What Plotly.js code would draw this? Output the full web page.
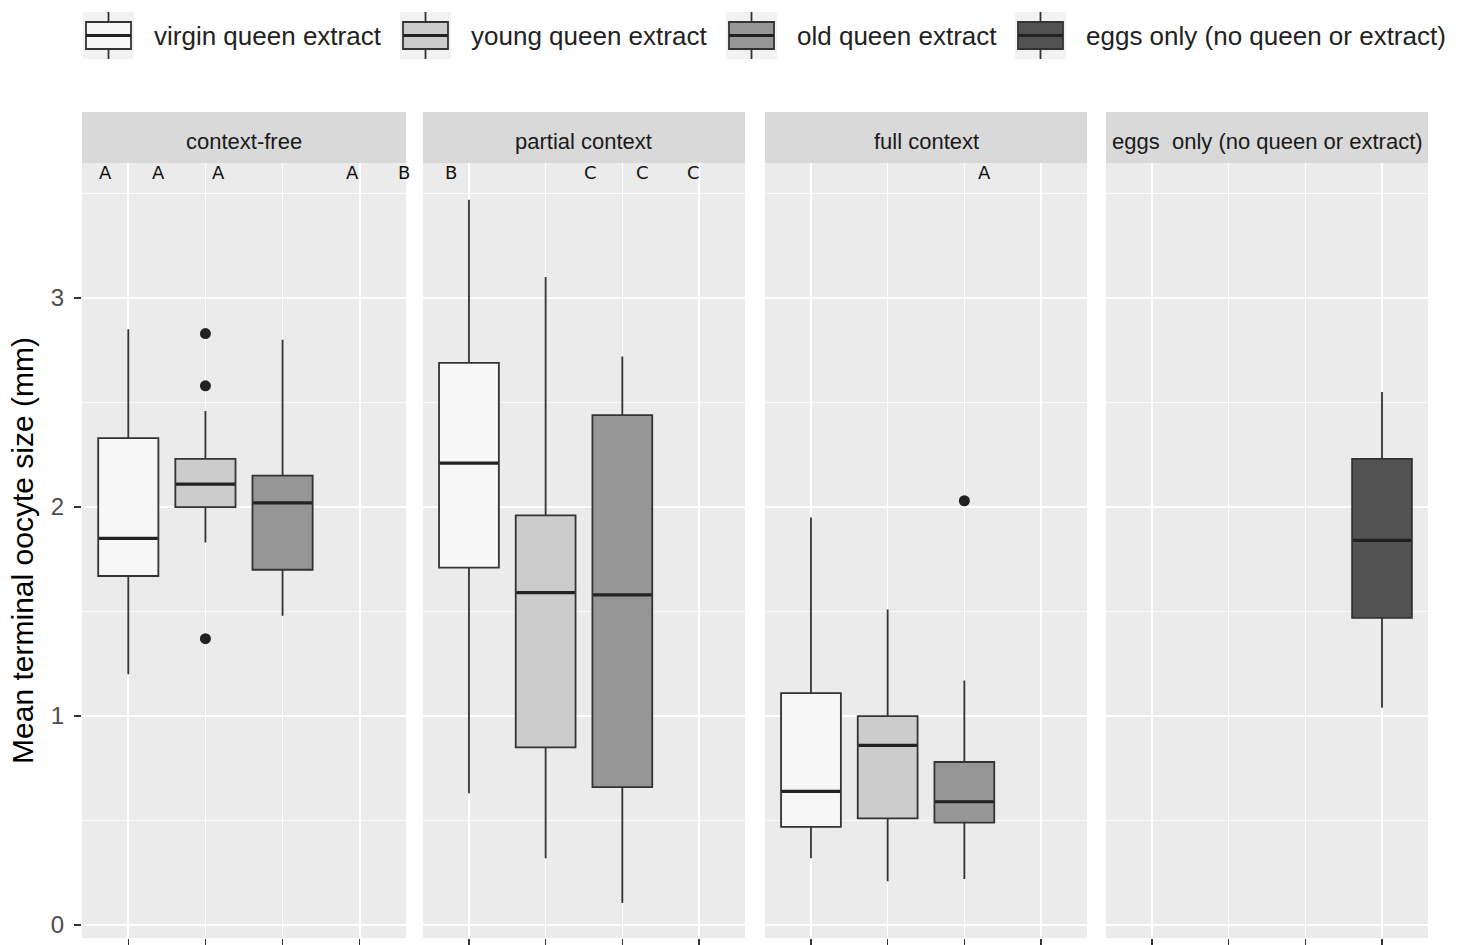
<!DOCTYPE html>
<html>
<head>
<meta charset="utf-8">
<script src="https://cdn.plot.ly/plotly-3.0.1.min.js"></script>
<style>html,body{margin:0;padding:0;background:#fff;}#chart{width:1468px;height:945px;}</style>
</head>
<body>
<div id="chart"></div>
<script>
// ---------- DATA ----------
const panelNames = ['context-free', 'partial context', 'full context', 'eggs\u00A0 only (no queen or extract)'];
const groupNames = ['virgin queen extract', 'young queen extract', 'old queen extract', 'eggs only (no queen or extract)'];
const groupFill = ['#F7F7F7', '#CCCCCC', '#969696', '#525252'];

// box statistics, indexed [panel][group]
const lowerWhisker = [[1.20, 1.83, 1.48, null], [0.63, 0.32, 0.105, null], [0.32, 0.21, 0.22, null], [null, null, null, 1.04]];
const q1 =           [[1.67, 2.00, 1.70, null], [1.71, 0.85, 0.66, null], [0.47, 0.51, 0.49, null], [null, null, null, 1.47]];
const median =       [[1.85, 2.11, 2.02, null], [2.21, 1.59, 1.58, null], [0.64, 0.86, 0.59, null], [null, null, null, 1.84]];
const q3 =           [[2.33, 2.23, 2.15, null], [2.69, 1.96, 2.44, null], [1.11, 1.00, 0.78, null], [null, null, null, 2.23]];
const upperWhisker = [[2.85, 2.46, 2.80, null], [3.47, 3.10, 2.72, null], [1.95, 1.51, 1.17, null], [null, null, null, 2.55]];

// outliers
const outlierPanel = [0, 0, 0, 2];
const outlierGroup = [1, 1, 1, 2];
const outlierValue = [2.83, 2.58, 1.37, 2.03];

// significance letters
const letterPanel = [0, 0, 0, 0, 0, 1, 1, 1, 1, 2];
const letterText = ['A', 'A', 'A', 'A', 'B', 'B', 'C', 'C', 'C', 'A'];
const letterX = [0.71, 1.39, 2.17, 3.91, 4.58, 0.76, 2.59, 3.26, 3.93, 3.26];
const letterY = 3.60;

const yTickVals = [0, 1, 2, 3];
const yTitle = 'Mean terminal oocyte size (mm)';

// ---------- STYLE / LAYOUT ----------
const BOX_W = 0.78;
const LINE = '#333333';
const domains = [[0, 0.2407], [0.2533, 0.4926], [0.5074, 0.7467], [0.7608, 1]];
const ML = 82, MT = 163, PW = 1346, PH = 775;
const stripH = 51 / PH;
const px2x = v => (v - ML) / PW;
const px2y = v => 1 + (MT - v) / PH;
const keyLeft = [83, 400, 726, 1015];

const traces = [];
for (let p = 0; p < panelNames.length; p++) {
  const xa = p === 0 ? 'x' : 'x' + (p + 1);
  for (let g = 0; g < groupNames.length; g++) {
    if (median[p][g] === null) continue;
    const pos = g + 1;
    traces.push({
      type: 'box', xaxis: xa, yaxis: 'y',
      x: [pos], q1: [q1[p][g]], median: [median[p][g]], q3: [q3[p][g]],
      lowerfence: [lowerWhisker[p][g]], upperfence: [upperWhisker[p][g]],
      width: BOX_W, whiskerwidth: 0, boxpoints: false,
      fillcolor: groupFill[g], line: {color: LINE, width: 1.8},
      name: groupNames[g], showlegend: false, hoverinfo: 'skip'
    });
    traces.push({
      type: 'scatter', mode: 'lines', xaxis: xa, yaxis: 'y',
      x: [pos - BOX_W / 2 + 0.01, pos + BOX_W / 2 - 0.01], y: [median[p][g], median[p][g]],
      line: {color: '#222222', width: 3.2}, showlegend: false, hoverinfo: 'skip'
    });
  }
}
for (let i = 0; i < outlierValue.length; i++) {
  const p = outlierPanel[i];
  traces.push({
    type: 'scatter', mode: 'markers', xaxis: p === 0 ? 'x' : 'x' + (p + 1), yaxis: 'y',
    x: [outlierGroup[i] + 1], y: [outlierValue[i]],
    marker: {color: '#222222', size: 11}, showlegend: false, hoverinfo: 'skip'
  });
}

const layout = {
  width: 1468, height: 945,
  paper_bgcolor: '#ffffff', plot_bgcolor: '#EBEBEB',
  margin: {l: ML, r: 1468 - ML - PW, t: MT, b: 945 - MT - PH},
  font: {family: 'Liberation Sans, Arial, sans-serif', color: '#333333'},
  showlegend: false,
  yaxis: {
    range: [-0.062, 3.646], tickvals: yTickVals, ticktext: yTickVals.map(String),
    ticks: 'outside', ticklen: 7, tickwidth: 1.5, tickcolor: LINE, ticklabelstandoff: 5,
    tickfont: {size: 24, color: '#4D4D4D'},
    showgrid: true, gridcolor: '#FFFFFF', gridwidth: 1.6, zeroline: false, showline: false,
    minor: {dtick: 0.5, tick0: 0, showgrid: true, gridcolor: '#FFFFFF', gridwidth: 0.8, ticks: ''},
    title: {text: yTitle, font: {size: 30, color: '#000000'}, standoff: 8},
    anchor: 'x', fixedrange: true
  },
  shapes: [], annotations: []
};
for (let p = 0; p < panelNames.length; p++) {
  const key = p === 0 ? 'xaxis' : 'xaxis' + (p + 1);
  layout[key] = {
    domain: domains[p], anchor: 'y', range: [0.4, 4.6],
    tickvals: [1, 2, 3, 4], ticktext: ['', '', '', ''],
    ticks: 'outside', ticklen: 8, tickwidth: 1.5, tickcolor: LINE,
    showgrid: true, gridcolor: '#FFFFFF', gridwidth: 1.6, zeroline: false, showline: false,
    fixedrange: true
  };
  layout.shapes.push({
    type: 'rect', xref: 'paper', yref: 'paper', x0: domains[p][0], x1: domains[p][1],
    y0: 1, y1: 1 + stripH, fillcolor: '#D9D9D9', line: {width: 0}, layer: 'below'
  });
  layout.annotations.push({
    xref: 'paper', yref: 'paper', x: (domains[p][0] + domains[p][1]) / 2, y: 1 + stripH / 2,
    text: panelNames[p], showarrow: false, xanchor: 'center', yanchor: 'middle', yshift: -4,
    font: {size: 22, color: '#1A1A1A'}
  });
}
for (let i = 0; i < letterText.length; i++) {
  const p = letterPanel[i];
  layout.annotations.push({
    xref: p === 0 ? 'x' : 'x' + (p + 1), yref: 'y', x: letterX[i], y: letterY,
    text: letterText[i], showarrow: false, xanchor: 'center', yanchor: 'middle',
    font: {size: 18, color: '#111111', family: 'DejaVu Sans, sans-serif'}
  });
}
// custom legend (ggplot-style keys)
for (let g = 0; g < groupNames.length; g++) {
  const L = keyLeft[g], cx = L + 25.5;
  layout.shapes.push({type: 'rect', xref: 'paper', yref: 'paper',
    x0: px2x(L), x1: px2x(L + 51), y0: px2y(12), y1: px2y(59), fillcolor: '#F2F2F2', line: {width: 0}});
  layout.shapes.push({type: 'line', xref: 'paper', yref: 'paper',
    x0: px2x(cx), x1: px2x(cx), y0: px2y(12), y1: px2y(59), line: {color: LINE, width: 1.8}});
  layout.shapes.push({type: 'rect', xref: 'paper', yref: 'paper',
    x0: px2x(L + 3), x1: px2x(L + 48), y0: px2y(22), y1: px2y(49), fillcolor: groupFill[g], line: {color: LINE, width: 1.8}});
  layout.shapes.push({type: 'line', xref: 'paper', yref: 'paper',
    x0: px2x(L + 3), x1: px2x(L + 48), y0: px2y(35.5), y1: px2y(35.5), line: {color: '#222222', width: 3}});
  layout.annotations.push({
    xref: 'paper', yref: 'paper', x: px2x(L + 69), y: px2y(36), text: groupNames[g],
    showarrow: false, xanchor: 'left', yanchor: 'middle', font: {size: 26, color: '#222222'}
  });
}

Plotly.newPlot('chart', traces, layout, {displayModeBar: false, staticPlot: true});
</script>
</body>
</html>
